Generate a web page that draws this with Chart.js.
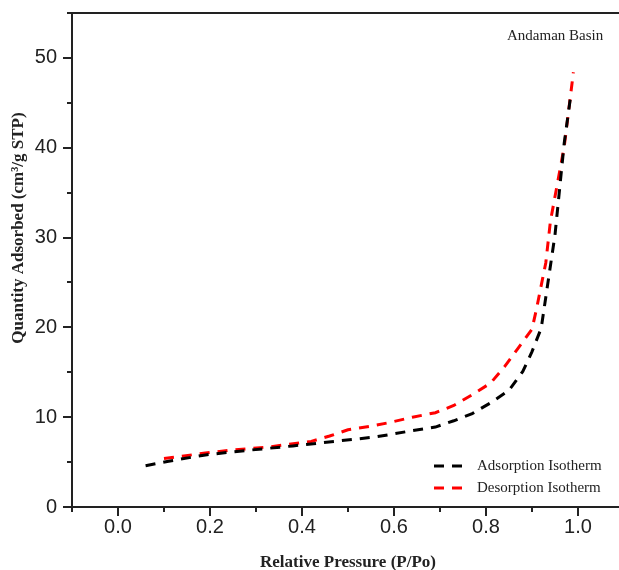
<!DOCTYPE html>
<html>
<head>
<meta charset="utf-8">
<script src="https://cdn.jsdelivr.net/npm/chart.js@4.4.1/dist/chart.umd.min.js"></script>
<style>
html,body{margin:0;padding:0;background:#fff;overflow:hidden;}
#wrap{width:619px;height:570px;overflow:hidden;position:relative;}
canvas{display:block;}
</style>
</head>
<body>
<div id="wrap"><canvas id="c" width="624" height="570"></canvas></div>
<script>
// ---- Data ----
const adsorptionP = [0.06, 0.11, 0.19, 0.28, 0.38, 0.47, 0.56, 0.64, 0.69, 0.73, 0.77, 0.81, 0.85, 0.88, 0.90, 0.92, 0.935, 0.95, 0.97, 0.985];
const adsorptionQ = [4.6, 5.1, 5.8, 6.3, 6.8, 7.3, 7.8, 8.5, 8.9, 9.6, 10.4, 11.6, 13.0, 15.1, 17.3, 19.9, 25.1, 30.3, 40.5, 46.1];
const desorptionP = [0.10, 0.19, 0.24, 0.33, 0.42, 0.46, 0.50, 0.55, 0.59, 0.64, 0.69, 0.73, 0.77, 0.81, 0.84, 0.87, 0.90, 0.91, 0.93, 0.94, 0.97, 0.99];
const desorptionQ = [5.4, 6.0, 6.3, 6.7, 7.3, 7.9, 8.6, 9.0, 9.4, 10.0, 10.5, 11.3, 12.5, 13.8, 15.6, 17.7, 19.8, 22.1, 27.2, 31.8, 40.1, 48.4];
const seriesNames = ["Adsorption Isotherm", "Desorption Isotherm"];
const xTickLabels = ["0.0", "0.2", "0.4", "0.6", "0.8", "1.0"];
const yTickLabels = ["0", "10", "20", "30", "40", "50"];
const xTitle = "Relative Pressure (P/Po)";
const yTitle = "Quantity Adsorbed (cm\u00B3/g STP)";
const annotation = "Andaman Basin";

const toPts = (xs, ys) => xs.map((x, i) => ({x: x, y: ys[i]}));
const colors = ["#000000", "#ff0000"];
const dash = [10, 8];

const decor = {
  id: 'decor',
  afterDraw(chart) {
    const ctx = chart.ctx, a = chart.chartArea;
    const xs = chart.scales.x, ys = chart.scales.y;
    ctx.save();
    ctx.strokeStyle = '#222';
    ctx.lineWidth = 2;
    // top border
    ctx.beginPath(); ctx.moveTo(a.left - 1, a.top); ctx.lineTo(a.right + 5, a.top); ctx.stroke();
    // x ticks
    for (let i = -1; i <= 11; i++) {
      const v = i / 10, px = Math.round(xs.getPixelForValue(v));
      const len = (i % 2 === 0) ? 9 : 5;
      ctx.beginPath(); ctx.moveTo(px, a.bottom); ctx.lineTo(px, a.bottom + len); ctx.stroke();
    }
    // y ticks
    for (let v = 0; v <= 55; v += 5) {
      const py = Math.round(ys.getPixelForValue(v));
      const len = (v % 10 === 0) ? 9 : 5;
      ctx.beginPath(); ctx.moveTo(a.left, py); ctx.lineTo(a.left - len, py); ctx.stroke();
    }
    // y title
    ctx.fillStyle = '#222';
    ctx.font = 'bold 17px "Liberation Serif", "Times New Roman", serif';
    ctx.textAlign = 'center'; ctx.textBaseline = 'middle';
    ctx.translate(19, 228); ctx.rotate(-Math.PI / 2);
    ctx.fillText(yTitle, 0, 0);
    ctx.setTransform(1, 0, 0, 1, 0, 0);
    // annotation
    ctx.font = '15px "Liberation Serif", "Times New Roman", serif';
    ctx.textAlign = 'left';
    ctx.fillText(annotation, 507, 36);
    // legend
    chart.data.datasets.forEach((ds, i) => {
      const y = 466 + i * 22;
      ctx.strokeStyle = ds.borderColor; ctx.lineWidth = 3;
      ctx.setLineDash(dash);
      ctx.beginPath(); ctx.moveTo(434, y); ctx.lineTo(469, y); ctx.stroke();
      ctx.setLineDash([]);
      ctx.fillStyle = '#222';
      ctx.fillText(ds.label, 477, y);
    });
    ctx.restore();
  }
};

new Chart(document.getElementById('c'), {
  type: 'scatter',
  data: {
    datasets: [
      {label: seriesNames[0], data: toPts(adsorptionP, adsorptionQ), showLine: true, borderColor: colors[0], backgroundColor: colors[0], borderWidth: 3, borderDash: dash, pointRadius: 0, tension: 0},
      {label: seriesNames[1], data: toPts(desorptionP, desorptionQ), showLine: true, borderColor: colors[1], backgroundColor: colors[1], borderWidth: 3, borderDash: dash, pointRadius: 0, tension: 0}
    ]
  },
  options: {
    responsive: false,
    animation: false,
    devicePixelRatio: 1,
    layout: {padding: {top: 13, right: 0, left: 0, bottom: 0}},
    plugins: {legend: {display: false}, tooltip: {enabled: false}},
    scales: {
      x: {
        type: 'linear', min: -0.1, max: 1.1,
        grid: {display: false},
        border: {display: true, color: '#222', width: 2},
        ticks: {
          stepSize: 0.2, autoSkip: false, padding: 0, color: '#222', maxRotation: 0,
          font: {family: '"Liberation Sans", Arial, sans-serif', size: 20},
          callback: (v) => { const k = Math.round(v * 5); return (k >= 0 && k <= 5 && Math.abs(v * 5 - k) < 1e-6) ? xTickLabels[k] : ''; }
        },
        title: {display: true, text: xTitle, color: '#222', padding: {top: 2, bottom: -3},
          font: {family: '"Liberation Serif", "Times New Roman", serif', size: 17, weight: 'bold'}},
        afterBuildTicks: (s) => { s.ticks = [0, 0.2, 0.4, 0.6, 0.8, 1.0].map(v => ({value: v})); },
        afterFit: (s) => { s.height = 63; s.paddingLeft = 0; s.paddingRight = 0; }
      },
      y: {
        type: 'linear', min: 0, max: 55,
        grid: {display: false},
        border: {display: true, color: '#222', width: 2},
        ticks: {
          stepSize: 10, padding: 7, color: '#222',
          font: {family: '"Liberation Sans", Arial, sans-serif', size: 20},
          callback: (v) => { const k = Math.round(v / 10); return (v % 10 === 0 && k <= 5) ? yTickLabels[k] : ''; }
        },
        afterBuildTicks: (s) => { s.ticks = [0, 10, 20, 30, 40, 50].map(v => ({value: v})); },
        afterFit: (s) => { s.width = 72; s.paddingTop = 0; s.paddingBottom = 0; }
      }
    }
  },
  plugins: [decor]
});
</script>
</body>
</html>
